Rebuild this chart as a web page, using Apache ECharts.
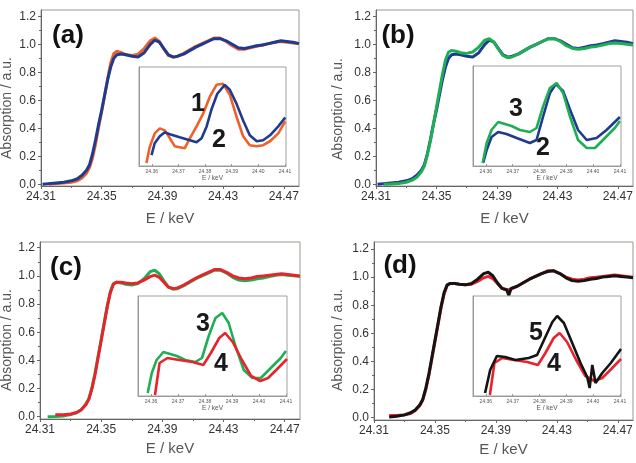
<!DOCTYPE html>
<html>
<head>
<meta charset="utf-8">
<script src="https://cdn.jsdelivr.net/npm/echarts@6/dist/echarts.min.js"></script>
<style>html,body{margin:0;padding:0;background:#fff}#c{width:636px;height:463px}</style>
</head>
<body>
<div id="c"></div>
<script>
// ---------- data ----------
const mainE = [24.311, 24.315, 24.32, 24.325, 24.33, 24.334, 24.337, 24.34, 24.342, 24.344, 24.346, 24.348, 24.35, 24.352, 24.354, 24.356, 24.358, 24.36, 24.363, 24.366, 24.37, 24.374, 24.378, 24.382, 24.385, 24.388, 24.391, 24.394, 24.397, 24.3985, 24.4, 24.404, 24.408, 24.412, 24.416, 24.42, 24.424, 24.428, 24.432, 24.436, 24.44, 24.444, 24.448, 24.452, 24.456, 24.46, 24.464, 24.468, 24.472, 24.476, 24.48];
const sample1 = [null, 0.0, 0.005, 0.01, 0.015, 0.025, 0.045, 0.08, 0.12, 0.19, 0.29, 0.41, 0.52, 0.64, 0.76, 0.87, 0.935, 0.95, 0.94, 0.925, 0.92, 0.93, 0.97, 1.025, 1.045, 1.02, 0.965, 0.92, 0.91, 0.91, 0.915, 0.935, 0.96, 0.985, 1.005, 1.025, 1.045, 1.045, 1.02, 0.99, 0.965, 0.965, 0.975, 0.985, 0.995, 1.005, 1.015, 1.02, 1.015, 1.01, 1.005];
const sample2 = [0.0, 0.005, 0.01, 0.015, 0.025, 0.04, 0.065, 0.10, 0.14, 0.22, 0.32, 0.43, 0.53, 0.64, 0.75, 0.84, 0.90, 0.925, 0.93, 0.925, 0.915, 0.91, 0.94, 1.0, 1.03, 1.015, 0.97, 0.925, 0.91, 0.912, 0.915, 0.93, 0.955, 0.98, 1.0, 1.02, 1.04, 1.04, 1.025, 1.0, 0.975, 0.97, 0.98, 0.99, 0.995, 1.005, 1.015, 1.025, 1.02, 1.015, 1.005];
const sample3 = [null, 0.0, 0.002, 0.005, 0.015, 0.03, 0.05, 0.09, 0.13, 0.21, 0.31, 0.43, 0.55, 0.67, 0.79, 0.89, 0.945, 0.955, 0.95, 0.94, 0.935, 0.945, 0.98, 1.03, 1.04, 1.015, 0.965, 0.92, 0.905, 0.906, 0.91, 0.93, 0.955, 0.98, 1.0, 1.02, 1.04, 1.04, 1.02, 0.99, 0.97, 0.965, 0.97, 0.98, 0.985, 0.995, 1.005, 1.01, 1.005, 1.0, 0.995];
const sample4 = [null, null, 0.015, 0.015, 0.02, 0.03, 0.05, 0.085, 0.125, 0.2, 0.3, 0.42, 0.54, 0.66, 0.78, 0.88, 0.94, 0.955, 0.955, 0.95, 0.945, 0.95, 0.97, 0.995, 1.005, 0.99, 0.955, 0.92, 0.91, 0.912, 0.915, 0.935, 0.96, 0.985, 1.005, 1.025, 1.045, 1.045, 1.025, 1.0, 0.985, 0.98, 0.985, 0.995, 1.0, 1.005, 1.01, 1.015, 1.01, 1.005, 1.0];
const sample5 = [null, null, 0.005, 0.01, 0.02, 0.035, 0.055, 0.09, 0.13, 0.21, 0.31, 0.43, 0.55, 0.67, 0.79, 0.89, 0.945, 0.955, 0.955, 0.95, 0.945, 0.955, 0.985, 1.025, 1.035, 1.01, 0.96, 0.92, 0.91, 0.87, 0.92, 0.935, 0.96, 0.985, 1.005, 1.025, 1.04, 1.045, 1.025, 0.995, 0.975, 0.97, 0.975, 0.985, 0.99, 1.0, 1.005, 1.01, 1.005, 1.0, 0.995];

const insetE1 = [24.358, 24.3592, 24.3611, 24.363, 24.3649, 24.3668, 24.3686, 24.3705, 24.3724, 24.3743, 24.3768, 24.3793, 24.3818, 24.3843, 24.3868, 24.3893, 24.3918, 24.3943, 24.3968, 24.3994, 24.4018, 24.4044, 24.4075, 24.4101];
const insetA1 = [0.03, 0.19, 0.33, 0.38, 0.36, 0.28, 0.20, 0.19, 0.18, 0.28, 0.40, 0.53, 0.70, 0.82, 0.83, 0.72, 0.50, 0.30, 0.21, 0.20, 0.21, 0.25, 0.33, 0.45];
const insetE2a = [24.3599, 24.3611, 24.363, 24.3649, 24.3668, 24.3705, 24.3743, 24.3768, 24.3787, 24.3806, 24.3824, 24.3846, 24.3874, 24.3893, 24.3918, 24.3943, 24.3968, 24.3994, 24.4018, 24.4044, 24.4075, 24.4101];
const insetA2a = [0.11, 0.23, 0.30, 0.34, 0.32, 0.29, 0.26, 0.24, 0.28, 0.40, 0.57, 0.73, 0.82, 0.77, 0.63, 0.46, 0.31, 0.25, 0.26, 0.31, 0.40, 0.49];
const insetE2b = [24.359, 24.3603, 24.3621, 24.3646, 24.3677, 24.3715, 24.3764, 24.3789, 24.3814, 24.3839, 24.3861, 24.3888, 24.3913, 24.3944, 24.3976, 24.4013, 24.405, 24.41];
const insetA2b = [0.03, 0.16, 0.29, 0.34, 0.32, 0.28, 0.23, 0.26, 0.50, 0.73, 0.82, 0.75, 0.57, 0.36, 0.26, 0.28, 0.36, 0.49];
const insetE3 = [24.3588, 24.3603, 24.3621, 24.3646, 24.3671, 24.3696, 24.3727, 24.3764, 24.3789, 24.3814, 24.3839, 24.3864, 24.3888, 24.3913, 24.3944, 24.3976, 24.4007, 24.4044, 24.4081, 24.41];
const insetA3 = [0.03, 0.23, 0.36, 0.44, 0.42, 0.40, 0.36, 0.34, 0.38, 0.60, 0.78, 0.83, 0.73, 0.50, 0.26, 0.18, 0.18, 0.28, 0.38, 0.45];
const insetE4 = [24.3615, 24.3632, 24.3661, 24.3705, 24.3754, 24.3794, 24.3822, 24.3853, 24.3875, 24.3903, 24.3937, 24.3971, 24.4005, 24.4034, 24.4064, 24.4104];
const insetA4 = [0.01, 0.33, 0.38, 0.36, 0.34, 0.31, 0.43, 0.58, 0.63, 0.54, 0.36, 0.20, 0.15, 0.18, 0.26, 0.37];
const insetE5 = [24.3597, 24.3616, 24.3641, 24.3672, 24.371, 24.376, 24.3791, 24.3822, 24.3848, 24.3866, 24.3891, 24.3922, 24.3953, 24.3978, 24.3987, 24.3997, 24.4009, 24.4034, 24.4066, 24.4104];
const insetA5 = [0.03, 0.26, 0.40, 0.39, 0.36, 0.38, 0.41, 0.59, 0.74, 0.80, 0.73, 0.53, 0.33, 0.19, 0.08, 0.31, 0.13, 0.23, 0.33, 0.47];

const xTicks = [24.31, 24.35, 24.39, 24.43, 24.47];
const xMinor = [24.33, 24.37, 24.41, 24.45];
const yTicks = [0, 0.2, 0.4, 0.6, 0.8, 1.0, 1.2];
const yMinor = [0.1, 0.3, 0.5, 0.7, 0.9, 1.1];
const insetTicks = [24.36, 24.37, 24.38, 24.39, 24.40, 24.41];
const panelLabels = ['(a)', '(b)', '(c)', '(d)'];
const curveTags = [['1', '2'], ['3', '2'], ['3', '4'], ['5', '4']];
const yTitle = 'Absorption / a.u.';
const xTitle = 'E / keV';

// ---------- styling / layout ----------
const COLORS = { s1: '#f0602a', s2: '#1f3b8f', s3: '#1fae55', s4: '#e8232b', s5: '#141414' };
const FONT = '"Liberation Sans", Arial, Helvetica, sans-serif';
const mains = { s1: sample1, s2: sample2, s3: sample3, s4: sample4, s5: sample5 };
const insets = {
  s1: [insetE1, insetA1], s2a: [insetE2a, insetA2a], s2b: [insetE2b, insetA2b],
  s3: [insetE3, insetA3], s4: [insetE4, insetA4], s5: [insetE5, insetA5]
};

const panels = [
  { grid: { left: 41, top: 10, width: 258, height: 176 }, yMin: -0.012, yMax: 1.245, xGap: 25, yName: [7, 108],
    curves: ['s1', 's2'], inset: { left: 139, top: 67, width: 147, height: 99 }, insetCurves: [['s1', 's1'], ['s2a', 's2']],
    label: [68, 36], tags: [[198, 104], [219, 140]] },
  { grid: { left: 376, top: 10, width: 257, height: 176 }, yMin: -0.012, yMax: 1.245, xGap: 25, yName: [338, 109],
    curves: ['s2', 's3'], inset: { left: 473, top: 66, width: 148, height: 100 }, insetCurves: [['s2b', 's2'], ['s3', 's3']],
    label: [398, 36], tags: [[516, 109], [543, 148]] },
  { grid: { left: 40, top: 242, width: 260, height: 177 }, yMin: -0.016, yMax: 1.2405, xGap: 22, yName: [7, 340],
    curves: ['s3', 's4'], inset: { left: 138, top: 296, width: 149, height: 100 }, insetCurves: [['s3', 's3'], ['s4', 's4']],
    label: [66, 268], tags: [[203, 324], [221, 364]] },
  { grid: { left: 374, top: 242, width: 259, height: 178 }, yMin: -0.0164, yMax: 1.2498, xGap: 22, yName: [338, 340],
    curves: ['s4', 's5'], inset: { left: 473, top: 296, width: 148, height: 100 }, insetCurves: [['s4', 's4'], ['s5', 's5']],
    label: [400, 266], tags: [[536, 333], [554, 364]] }
];

const option = { animation: false, backgroundColor: '#fff', grid: [], xAxis: [], yAxis: [], series: [], graphic: [] };

function pairs(xs, ys) {
  const out = [];
  for (let i = 0; i < xs.length; i++) if (ys[i] !== null && ys[i] !== undefined) out.push([xs[i], ys[i]]);
  return out;
}

panels.forEach((p, k) => {
  const g = option.grid.length;
  option.grid.push(Object.assign({ show: true, borderColor: '#9a9a90', borderWidth: 1, backgroundColor: 'transparent', z: 0 }, p.grid));
  const xi = option.xAxis.length;
  option.xAxis.push({
    type: 'value', gridIndex: g, min: 24.31, max: 24.48, position: 'bottom',
    axisLine: { show: true, onZero: false, lineStyle: { color: '#666', width: 1 } },
    axisTick: { show: true, inside: false, length: 3, customValues: xTicks, lineStyle: { color: '#666' } },
    axisLabel: { show: true, customValues: xTicks, formatter: v => v.toFixed(2), fontSize: 12, color: '#333', margin: 5, fontFamily: FONT },
    splitLine: { show: false },
    name: xTitle, nameLocation: 'middle', nameGap: p.xGap,
    nameTextStyle: { fontSize: 15, color: '#555', fontFamily: FONT }
  });
  option.xAxis.push({
    type: 'value', gridIndex: g, min: 24.31, max: 24.48, position: 'bottom',
    axisLine: { show: false, onZero: false },
    axisTick: { show: true, inside: false, length: 2, customValues: xMinor, lineStyle: { color: '#666' } },
    axisLabel: { show: false }, splitLine: { show: false }
  });
  const yi = option.yAxis.length;
  option.yAxis.push({
    type: 'value', gridIndex: g, min: p.yMin, max: p.yMax, position: 'left',
    axisLine: { show: true, onZero: false, lineStyle: { color: '#666', width: 1 } },
    axisTick: { show: true, inside: false, length: 3, customValues: yTicks, lineStyle: { color: '#666' } },
    axisLabel: { show: true, customValues: yTicks, formatter: v => v.toFixed(1), fontSize: 12, color: '#333', margin: 5, fontFamily: FONT },
    splitLine: { show: false }
  });
  option.yAxis.push({
    type: 'value', gridIndex: g, min: p.yMin, max: p.yMax, position: 'left',
    axisLine: { show: false, onZero: false },
    axisTick: { show: true, inside: false, length: 2, customValues: yMinor, lineStyle: { color: '#666' } },
    axisLabel: { show: false }, splitLine: { show: false }
  });
  p.curves.forEach((c, j) => {
    option.series.push({
      type: 'line', xAxisIndex: xi, yAxisIndex: yi, data: pairs(mainE, mains[c]),
      symbol: 'none', showSymbol: false, silent: true, z: 2 + j,
      lineStyle: { color: COLORS[c], width: 3 }
    });
  });

  const gi = option.grid.length;
  option.grid.push(Object.assign({ show: true, borderColor: '#a0a0a0', borderWidth: 1, backgroundColor: '#fff', z: 5 }, p.inset));
  const ixi = option.xAxis.length;
  option.xAxis.push({
    type: 'value', gridIndex: gi, min: 24.3552, max: 24.4104, position: 'bottom', z: 6,
    axisLine: { show: true, onZero: false, lineStyle: { color: '#999', width: 1 } },
    axisTick: { show: true, inside: true, length: 2, customValues: insetTicks, lineStyle: { color: '#999' } },
    axisLabel: { show: true, customValues: insetTicks, formatter: v => v.toFixed(2), fontSize: 5, color: '#555', margin: 3, fontFamily: FONT },
    splitLine: { show: false },
    name: xTitle, nameLocation: 'middle', nameGap: 9,
    nameTextStyle: { fontSize: 6.5, color: '#555', fontFamily: FONT }
  });
  const iyi = option.yAxis.length;
  option.yAxis.push({
    type: 'value', gridIndex: gi, min: 0, max: 1, position: 'left', z: 6,
    axisLine: { show: true, onZero: false, lineStyle: { color: '#999', width: 1 } },
    axisTick: { show: false }, axisLabel: { show: false }, splitLine: { show: false }
  });
  p.insetCurves.forEach((ic, j) => {
    const d = insets[ic[0]];
    option.series.push({
      type: 'line', xAxisIndex: ixi, yAxisIndex: iyi, data: pairs(d[0], d[1]),
      symbol: 'none', showSymbol: false, silent: true, z: 7 + j,
      lineStyle: { color: COLORS[ic[1]], width: 2.6 }
    });
  });

  option.graphic.push({
    type: 'text', x: p.yName[0], y: p.yName[1], rotation: Math.PI / 2, z: 20,
    style: { text: yTitle, fill: '#555', font: '14px ' + FONT, align: 'center', verticalAlign: 'middle', textAlign: 'center', textVerticalAlign: 'middle' }
  });
  option.graphic.push({
    type: 'text', x: p.label[0], y: p.label[1], z: 20,
    style: { text: panelLabels[k], fill: '#111', font: 'bold 26px ' + FONT, align: 'center', verticalAlign: 'middle', textAlign: 'center', textVerticalAlign: 'middle' }
  });
  p.tags.forEach((t, j) => {
    option.graphic.push({
      type: 'text', x: t[0], y: t[1], z: 20,
      style: { text: curveTags[k][j], fill: '#1a1a1a', font: 'bold 25px ' + FONT, align: 'center', verticalAlign: 'middle', textAlign: 'center', textVerticalAlign: 'middle' }
    });
  });
});

const chart = echarts.init(document.getElementById('c'), null, { renderer: 'canvas' });
chart.setOption(option);
</script>
</body>
</html>
